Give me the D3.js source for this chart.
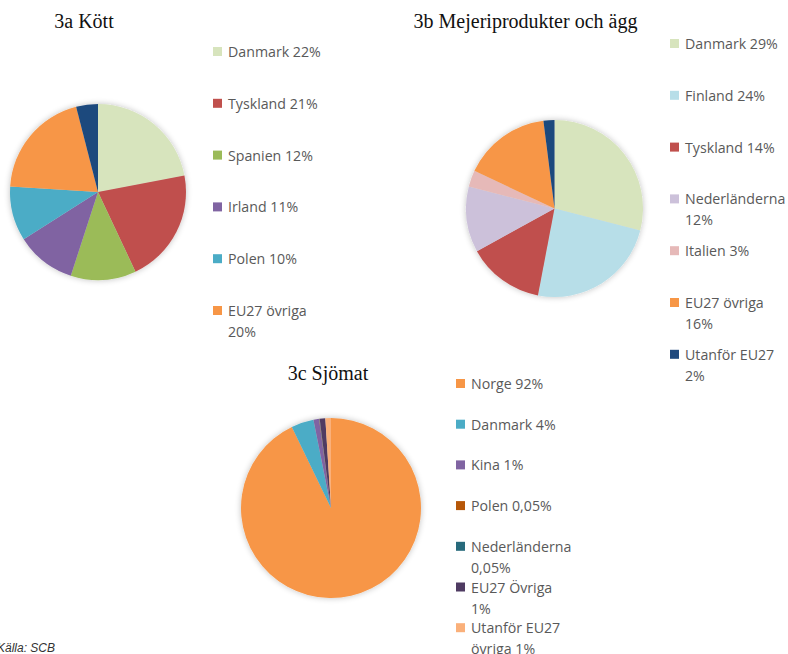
<!DOCTYPE html>
<html>
<head>
<meta charset="utf-8">
<script src="https://cdn.jsdelivr.net/npm/d3@7"></script>
<style>
  body { margin: 0; background: #fff; }
  svg { display: block; }
  .title { font-family: "Liberation Serif", "DejaVu Serif", serif; font-size: 20px; fill: #111; }
  .legend text { font-family: "Open Sans", "Noto Sans", sans-serif; font-size: 14.2px; fill: #595959; }
  .source { font-family: "Liberation Sans", Arial, sans-serif; font-size: 12px; font-style: italic; fill: #333; }
</style>
</head>
<body>
<div id="chart"></div>
<script>
// 3a Kött
const meatLabels = ['Danmark 22%', 'Tyskland 21%', 'Spanien 12%', 'Irland 11%', 'Polen 10%', 'EU27 övriga 20%', 'Utanför EU27 4%'];
const meatValues = [22, 21, 12, 11, 10, 20, 4];
const meatColors = ['#d7e4bd', '#c0504d', '#9bbb59', '#8064a2', '#4bacc6', '#f79646', '#1f497d'];

// 3b Mejeriprodukter och ägg
const dairyLabels = ['Danmark 29%', 'Finland 24%', 'Tyskland 14%', 'Nederländerna 12%', 'Italien 3%', 'EU27 övriga 16%', 'Utanför EU27 2%'];
const dairyValues = [29, 24, 14, 12, 3, 16, 2];
const dairyColors = ['#d7e4bd', '#b7dee8', '#c0504d', '#ccc1da', '#e6b9b8', '#f79646', '#1f497d'];

// 3c Sjömat
const fishLabels = ['Norge 92%', 'Danmark 4%', 'Kina 1%', 'Polen 0,05%', 'Nederländerna 0,05%', 'EU27 Övriga 1%', 'Utanför EU27 övriga 1%'];
const fishValues = [92, 4, 1, 0.05, 0.05, 1, 1];
const fishColors = ['#f79646', '#4bacc6', '#8064a2', '#b65708', '#276a7c', '#4f3b62', '#fab07a'];

const width = 788, height = 654;

const svg = d3.select('#chart').append('svg')
  .attr('width', width)
  .attr('height', height);

// soft edge shadow like the original
const defs = svg.append('defs');
const filter = defs.append('filter').attr('id', 'soft')
  .attr('x', '-20%').attr('y', '-20%').attr('width', '140%').attr('height', '140%');
filter.append('feGaussianBlur').attr('in', 'SourceAlpha').attr('stdDeviation', 3).attr('result', 'blur');
filter.append('feComponentTransfer').attr('in', 'blur').attr('result', 'faint')
  .append('feFuncA').attr('type', 'linear').attr('slope', 0.25);
const merge = filter.append('feMerge');
merge.append('feMergeNode').attr('in', 'faint');
merge.append('feMergeNode').attr('in', 'SourceGraphic');

const charts = [
  {title: '3a Kött', tx: 84, ty: 28, cx: 98, cy: 192, r: 88, labels: meatLabels, values: meatValues, colors: meatColors,
   legendX: 213, legendY: 52, step: 51.8, shown: 6},
  {title: '3b Mejeriprodukter och ägg', tx: 525.5, ty: 28, cx: 554.5, cy: 208.5, r: 88.5, labels: dairyLabels, values: dairyValues, colors: dairyColors,
   legendX: 670, legendY: 44, step: 51.8, shown: 7},
  {title: '3c Sjömat', tx: 328, ty: 380, cx: 331, cy: 508, r: 90, labels: fishLabels, values: fishValues, colors: fishColors,
   legendX: 456, legendY: 384, step: 40.7, shown: 7}
];

const pie = d3.pie().sort(null).value(d => d.value);

charts.forEach(c => {
  const data = c.values.map((v, i) => ({value: v, label: c.labels[i], color: c.colors[i]}));
  const arc = d3.arc().innerRadius(0).outerRadius(c.r);

  svg.append('text')
    .attr('class', 'title')
    .attr('x', c.tx)
    .attr('y', c.ty)
    .attr('text-anchor', 'middle')
    .text(c.title);

  const g = svg.append('g')
    .attr('transform', `translate(${c.cx},${c.cy})`)
    .attr('filter', 'url(#soft)');

  g.selectAll('path')
    .data(pie(data))
    .join('path')
    .attr('d', arc)
    .attr('fill', d => d.data.color);

  // legend, wrapped to a fixed width
  const legend = svg.append('g').attr('class', 'legend');
  const items = legend.selectAll('g')
    .data(data.slice(0, c.shown))
    .join('g')
    .attr('transform', (d, i) => `translate(${c.legendX},${c.legendY + i * c.step})`);

  items.append('rect')
    .attr('x', 0).attr('y', -5)
    .attr('width', 9).attr('height', 9)
    .attr('fill', d => d.color);

  items.each(function(d) {
    const t = d3.select(this).append('text').attr('x', 15).attr('y', 5);
    const words = d.label.split(' ');
    let line = [];
    let tspan = t.append('tspan').attr('x', 15).attr('dy', 0);
    words.forEach(w => {
      line.push(w);
      tspan.text(line.join(' '));
      if (tspan.node().getComputedTextLength() > 98 && line.length > 1) {
        line.pop();
        tspan.text(line.join(' '));
        line = [w];
        tspan = t.append('tspan').attr('x', 15).attr('dy', 21).text(w);
      }
    });
  });
});

svg.append('text')
  .attr('class', 'source')
  .attr('x', -3)
  .attr('y', 652)
  .text('Källa: SCB');
</script>
</body>
</html>
